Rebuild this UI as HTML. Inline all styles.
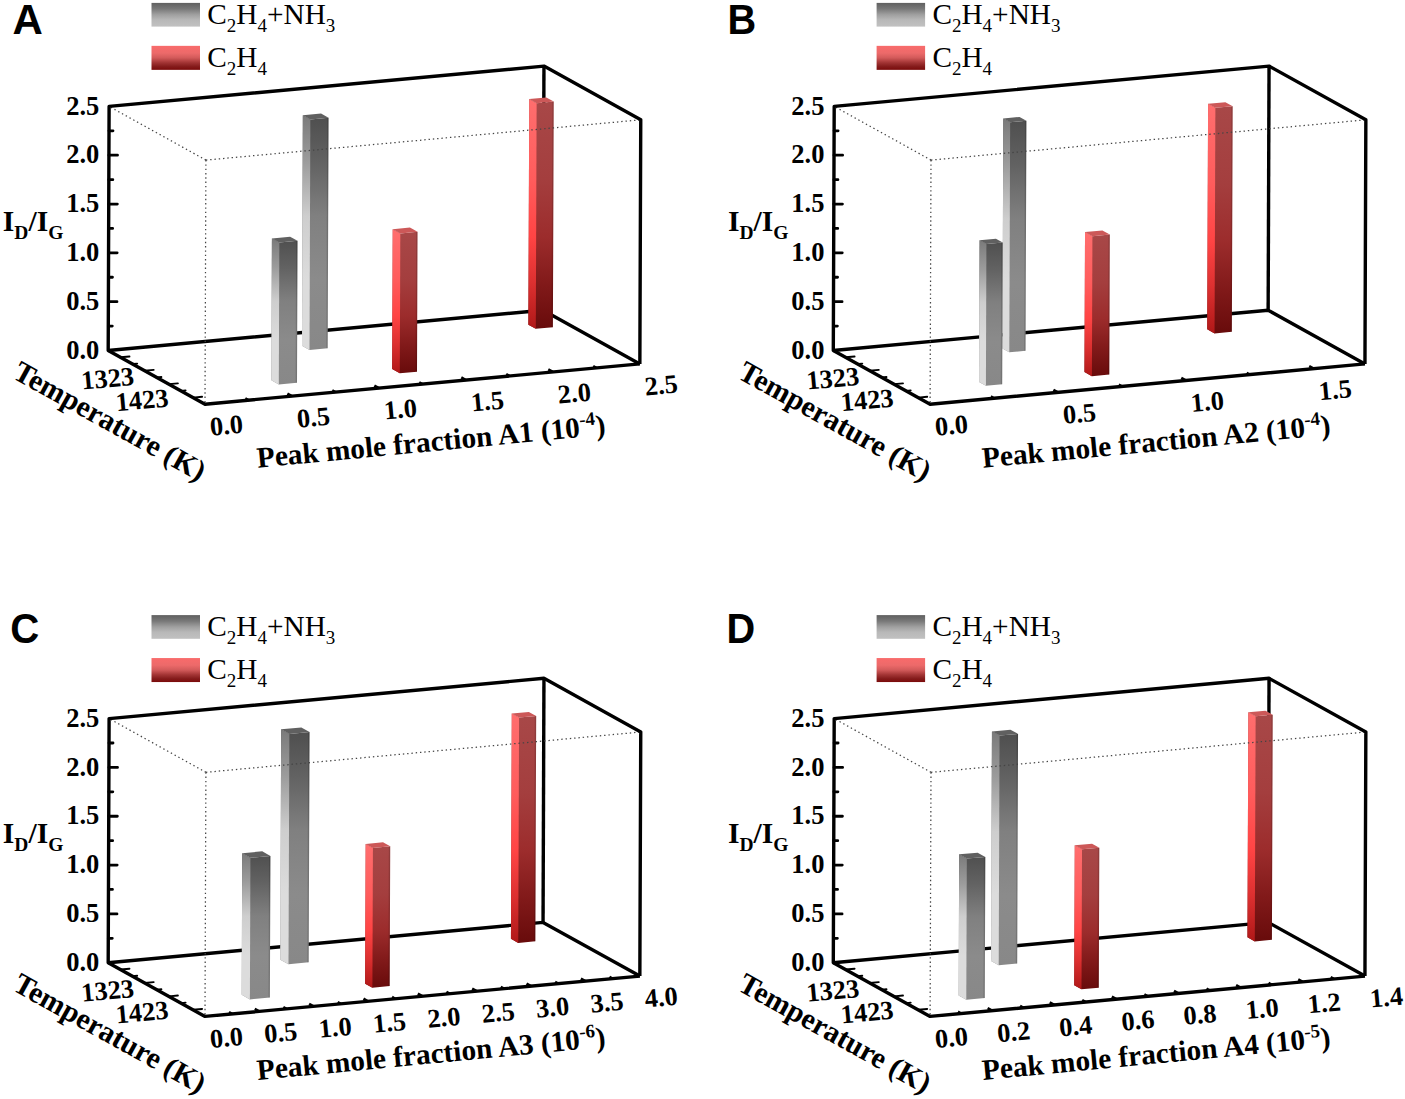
<!DOCTYPE html>
<html lang="en"><head><meta charset="utf-8"><title>Figure</title>
<style>html,body{margin:0;padding:0;background:#fff}svg{display:block}text{fill:#000}.tk{font-family:'Liberation Serif',serif;font-weight:bold;font-size:26.5px}.tt{font-family:'Liberation Serif',serif;font-weight:bold;font-size:29.6px}.lg{font-family:'Liberation Serif',serif;font-size:29.3px}.pl{font-family:'Liberation Sans',sans-serif;font-weight:bold;font-size:42px}</style></head><body>
<svg width="1405" height="1099" viewBox="0 0 1405 1099">
<defs>
<linearGradient id="lgG" x1="0" y1="0" x2="0" y2="1"><stop offset="0" stop-color="#606060"/><stop offset="0.25" stop-color="#787878"/><stop offset="0.5" stop-color="#a0a0a0"/><stop offset="0.72" stop-color="#b8b8b8"/><stop offset="1" stop-color="#c1c1c1"/></linearGradient>
<linearGradient id="lgR" x1="0" y1="0" x2="0" y2="1"><stop offset="0" stop-color="#f96b6b"/><stop offset="0.3" stop-color="#ec6a6a"/><stop offset="0.5" stop-color="#d25a5a"/><stop offset="0.7" stop-color="#a23434"/><stop offset="0.85" stop-color="#861d1d"/><stop offset="1" stop-color="#7a0a0a"/></linearGradient>
<linearGradient id="gL" x1="0" y1="0" x2="0" y2="1"><stop offset="0" stop-color="#7a7a7a"/><stop offset="0.2" stop-color="#9c9c9c"/><stop offset="0.43" stop-color="#cecece"/><stop offset="0.7" stop-color="#dcdcdc"/><stop offset="1" stop-color="#dcdcdc"/></linearGradient>
<linearGradient id="gF" x1="0" y1="0" x2="0" y2="1"><stop offset="0" stop-color="#4e4e4e"/><stop offset="0.2" stop-color="#626262"/><stop offset="0.43" stop-color="#808080"/><stop offset="0.7" stop-color="#8b8b8b"/><stop offset="1" stop-color="#888888"/></linearGradient>
<linearGradient id="rL" x1="0" y1="0" x2="0" y2="1"><stop offset="0" stop-color="#ff6e6e"/><stop offset="0.35" stop-color="#ff5c5c"/><stop offset="0.6" stop-color="#ff4444"/><stop offset="0.8" stop-color="#dc3030"/><stop offset="1" stop-color="#b01818"/></linearGradient>
<linearGradient id="rF" x1="0" y1="0" x2="0" y2="1"><stop offset="0" stop-color="#a84848"/><stop offset="0.35" stop-color="#a43e3e"/><stop offset="0.6" stop-color="#9c2c2c"/><stop offset="0.8" stop-color="#821a1a"/><stop offset="1" stop-color="#680b0b"/></linearGradient>
</defs>
<rect width="1405" height="1099" fill="#fff"/>
<g transform="translate(0,0)">
<rect x="151.5" y="2.9" width="48.5" height="23.7" fill="url(#lgG)"/>
<rect x="151.5" y="45.85" width="48.5" height="24" fill="url(#lgR)"/>
<text class="lg" x="207.3" y="23.9">C<tspan font-size="19px" dy="7.8">2</tspan><tspan dy="-7.8">H</tspan><tspan font-size="19px" dy="7.8">4</tspan><tspan dy="-7.8">+NH</tspan><tspan font-size="19px" dy="7.8">3</tspan></text>
<text class="lg" x="207.3" y="66.9">C<tspan font-size="19px" dy="7.8">2</tspan><tspan dy="-7.8">H</tspan><tspan font-size="19px" dy="7.8">4</tspan></text>
<g fill="none" stroke="#000" stroke-width="3.4" stroke-linejoin="round" stroke-linecap="butt">
<polyline points="108.2,350.5 543.05,310.2 639.85,363.9"/>
<polyline points="543.95,66.1 543.05,310.2"/>
</g>
<polygon points="302.85,115.24 310.35,119.4 328.55,117.71 327.7,348.21 309.5,349.9 302,345.74" fill="url(#gF)"/><polygon points="302.85,115.24 310.35,119.4 309.5,349.9 302,345.74" fill="url(#gL)"/><polygon points="327.15,117.84 328.55,117.71 327.7,348.21 326.3,348.34" fill="#000" fill-opacity="0.14"/><polygon points="302.85,115.24 321.05,113.55 328.55,117.71 310.35,119.4" fill="#606060"/>
<polygon points="529.23,99.09 536.63,103.2 553.73,101.62 552.9,327.22 535.8,328.8 528.4,324.69" fill="url(#rF)"/><polygon points="529.23,99.09 536.63,103.2 535.8,328.8 528.4,324.69" fill="url(#rL)"/><polygon points="552.33,101.74 553.73,101.62 552.9,327.22 551.5,327.34" fill="#000" fill-opacity="0.14"/><polygon points="529.23,99.09 546.33,97.51 553.73,101.62 536.63,103.2" fill="#cc5858"/>
<polygon points="271.92,238.39 279.32,242.5 297.52,240.81 297,382.71 278.8,384.4 271.4,380.29" fill="url(#gF)"/><polygon points="271.92,238.39 279.32,242.5 278.8,384.4 271.4,380.29" fill="url(#gL)"/><polygon points="296.12,240.94 297.52,240.81 297,382.71 295.6,382.84" fill="#000" fill-opacity="0.14"/><polygon points="271.92,238.39 290.12,236.71 297.52,240.81 279.32,242.5" fill="#606060"/>
<polygon points="392.72,229.18 400.32,233.4 417.52,231.81 417,371.71 399.8,373.3 392.2,369.08" fill="url(#rF)"/><polygon points="392.72,229.18 400.32,233.4 399.8,373.3 392.2,369.08" fill="url(#rL)"/><polygon points="416.12,231.94 417.52,231.81 417,371.71 415.6,371.84" fill="#000" fill-opacity="0.14"/><polygon points="392.72,229.18 409.92,227.59 417.52,231.81 400.32,233.4" fill="#cc5858"/>
<g fill="none" stroke="#444" stroke-width="1.25" stroke-dasharray="1.4 2.9">
<polyline points="205.9,160.1 109.1,106.4"/>
<polyline points="205.9,160.1 640.75,119.8"/>
<polyline points="205.9,160.1 205,404.2"/>
</g>
<g fill="none" stroke="#000" stroke-width="3.4" stroke-linejoin="round" stroke-linecap="butt">
<polyline points="639.85,363.9 205,404.2 108.2,350.5 109.1,106.4 543.95,66.1 640.75,119.8 639.85,363.9"/>
<path d="M108.29 326.09h4M108.38 301.68h8.6M108.47 277.27h4M108.56 252.86h8.6M108.65 228.45h4M108.74 204.04h8.6M108.83 179.63h4M108.92 155.22h8.6M109.01 130.81h4" stroke-linecap="round" stroke-width="2.8"/>
<path d="M120.49 357.32l9 -0.83M132.59 364.03l4.6 -0.43M144.69 370.74l9 -0.83M156.79 377.46l4.6 -0.43M168.89 384.17l9 -0.83M180.99 390.88l4.6 -0.43M193.09 397.59l9 -0.83" stroke-width="1.9" stroke-linecap="round"/>
<path d="M248.49 400.17l-3.2 -1.78M291.97 396.14l-4.6 -2.55M335.46 392.11l-3.2 -1.78M378.94 388.08l-4.6 -2.55M422.43 384.05l-3.2 -1.78M465.91 380.02l-4.6 -2.55M509.39 375.99l-3.2 -1.78M552.88 371.96l-4.6 -2.55M596.37 367.93l-3.2 -1.78" stroke-width="2.6" stroke-linecap="butt"/>
</g>
<text class="tk" text-anchor="end" x="99.3" y="358.7">0.0</text>
<text class="tk" text-anchor="end" x="99.3" y="309.88">0.5</text>
<text class="tk" text-anchor="end" x="99.3" y="261.06">1.0</text>
<text class="tk" text-anchor="end" x="99.3" y="212.24">1.5</text>
<text class="tk" text-anchor="end" x="99.3" y="163.42">2.0</text>
<text class="tk" text-anchor="end" x="99.3" y="114.6">2.5</text>
<text class="tt" x="2.8" y="231.2">I<tspan font-size="19.5px" dy="7.5">D</tspan><tspan dy="-7.5">/I</tspan><tspan font-size="19.5px" dy="7.5">G</tspan></text>
<text class="tk" text-anchor="middle" transform="translate(226.4,425.4) rotate(-5.29)" x="0" y="8.8">0.0</text>
<text class="tk" text-anchor="middle" transform="translate(313.37,417.34) rotate(-5.29)" x="0" y="8.8">0.5</text>
<text class="tk" text-anchor="middle" transform="translate(400.34,409.28) rotate(-5.29)" x="0" y="8.8">1.0</text>
<text class="tk" text-anchor="middle" transform="translate(487.31,401.22) rotate(-5.29)" x="0" y="8.8">1.5</text>
<text class="tk" text-anchor="middle" transform="translate(574.28,393.16) rotate(-5.29)" x="0" y="8.8">2.0</text>
<text class="tk" text-anchor="middle" transform="translate(661.25,385.1) rotate(-5.29)" x="0" y="8.8">2.5</text>
<text class="tk" text-anchor="middle" transform="translate(107.6,378.4) rotate(-5.29)" x="0" y="8.8">1323</text>
<text class="tk" text-anchor="middle" transform="translate(142,400.1) rotate(-5.29)" x="0" y="8.8">1423</text>
<text class="tt" style="font-size:29.35px" transform="translate(257.8,467.8) rotate(-5.45)" x="0" y="0">Peak mole fraction A1 (10<tspan font-size="19px" dy="-11">-4</tspan><tspan dy="11">)</tspan></text>
<text class="tt" transform="translate(11.5,377.4) rotate(29.1)" x="0" y="0">Temperature (K)</text>
</g>
<text class="pl" x="12.5" y="33.8">A</text>
<g transform="translate(725.1,0)">
<rect x="151.5" y="2.9" width="48.5" height="23.7" fill="url(#lgG)"/>
<rect x="151.5" y="45.85" width="48.5" height="24" fill="url(#lgR)"/>
<text class="lg" x="207.3" y="23.9">C<tspan font-size="19px" dy="7.8">2</tspan><tspan dy="-7.8">H</tspan><tspan font-size="19px" dy="7.8">4</tspan><tspan dy="-7.8">+NH</tspan><tspan font-size="19px" dy="7.8">3</tspan></text>
<text class="lg" x="207.3" y="66.9">C<tspan font-size="19px" dy="7.8">2</tspan><tspan dy="-7.8">H</tspan><tspan font-size="19px" dy="7.8">4</tspan></text>
<g fill="none" stroke="#000" stroke-width="3.4" stroke-linejoin="round" stroke-linecap="butt">
<polyline points="108.2,350.5 543.05,310.2 639.85,363.9"/>
<polyline points="543.95,66.1 543.05,310.2"/>
</g>
<polygon points="278.2,118.4 285.05,122.2 301.3,120.69 300.45,350.79 284.2,352.3 277.35,348.5" fill="url(#gF)"/><polygon points="278.2,118.4 285.05,122.2 284.2,352.3 277.35,348.5" fill="url(#gL)"/><polygon points="299.9,120.82 301.3,120.69 300.45,350.79 299.05,350.92" fill="#000" fill-opacity="0.14"/><polygon points="278.2,118.4 294.45,116.89 301.3,120.69 285.05,122.2" fill="#606060"/>
<polygon points="482.98,103.75 490.28,107.8 507.58,106.2 506.75,331.8 489.45,333.4 482.15,329.35" fill="url(#rF)"/><polygon points="482.98,103.75 490.28,107.8 489.45,333.4 482.15,329.35" fill="url(#rL)"/><polygon points="506.18,106.33 507.58,106.2 506.75,331.8 505.35,331.93" fill="#000" fill-opacity="0.14"/><polygon points="482.98,103.75 500.28,102.15 507.58,106.2 490.28,107.8" fill="#cc5858"/>
<polygon points="254.52,240.23 261.32,244 277.62,242.49 277.1,384.29 260.8,385.8 254,382.03" fill="url(#gF)"/><polygon points="254.52,240.23 261.32,244 260.8,385.8 254,382.03" fill="url(#gL)"/><polygon points="276.22,242.62 277.62,242.49 277.1,384.29 275.7,384.42" fill="#000" fill-opacity="0.14"/><polygon points="254.52,240.23 270.82,238.72 277.62,242.49 261.32,244" fill="#606060"/>
<polygon points="359.92,232.09 367.32,236.2 384.72,234.59 384.2,374.59 366.8,376.2 359.4,372.09" fill="url(#rF)"/><polygon points="359.92,232.09 367.32,236.2 366.8,376.2 359.4,372.09" fill="url(#rL)"/><polygon points="383.32,234.72 384.72,234.59 384.2,374.59 382.8,374.72" fill="#000" fill-opacity="0.14"/><polygon points="359.92,232.09 377.32,230.48 384.72,234.59 367.32,236.2" fill="#cc5858"/>
<g fill="none" stroke="#444" stroke-width="1.25" stroke-dasharray="1.4 2.9">
<polyline points="205.9,160.1 109.1,106.4"/>
<polyline points="205.9,160.1 640.75,119.8"/>
<polyline points="205.9,160.1 205,404.2"/>
</g>
<g fill="none" stroke="#000" stroke-width="3.4" stroke-linejoin="round" stroke-linecap="butt">
<polyline points="639.85,363.9 205,404.2 108.2,350.5 109.1,106.4 543.95,66.1 640.75,119.8 639.85,363.9"/>
<path d="M108.29 326.09h4M108.38 301.68h8.6M108.47 277.27h4M108.56 252.86h8.6M108.65 228.45h4M108.74 204.04h8.6M108.83 179.63h4M108.92 155.22h8.6M109.01 130.81h4" stroke-linecap="round" stroke-width="2.8"/>
<path d="M120.49 357.32l9 -0.83M132.59 364.03l4.6 -0.43M144.69 370.74l9 -0.83M156.79 377.46l4.6 -0.43M168.89 384.17l9 -0.83M180.99 390.88l4.6 -0.43M193.09 397.59l9 -0.83" stroke-width="1.9" stroke-linecap="round"/>
<path d="M268.95 398.27l-3.2 -1.78M332.9 392.35l-4.6 -2.55M396.85 386.42l-3.2 -1.78M460.79 380.49l-4.6 -2.55M524.74 374.57l-3.2 -1.78M588.69 368.64l-4.6 -2.55" stroke-width="2.6" stroke-linecap="butt"/>
</g>
<text class="tk" text-anchor="end" x="99.3" y="358.7">0.0</text>
<text class="tk" text-anchor="end" x="99.3" y="309.88">0.5</text>
<text class="tk" text-anchor="end" x="99.3" y="261.06">1.0</text>
<text class="tk" text-anchor="end" x="99.3" y="212.24">1.5</text>
<text class="tk" text-anchor="end" x="99.3" y="163.42">2.0</text>
<text class="tk" text-anchor="end" x="99.3" y="114.6">2.5</text>
<text class="tt" x="2.8" y="231.2">I<tspan font-size="19.5px" dy="7.5">D</tspan><tspan dy="-7.5">/I</tspan><tspan font-size="19.5px" dy="7.5">G</tspan></text>
<text class="tk" text-anchor="middle" transform="translate(226.4,425.4) rotate(-5.29)" x="0" y="8.8">0.0</text>
<text class="tk" text-anchor="middle" transform="translate(354.3,413.55) rotate(-5.29)" x="0" y="8.8">0.5</text>
<text class="tk" text-anchor="middle" transform="translate(482.19,401.69) rotate(-5.29)" x="0" y="8.8">1.0</text>
<text class="tk" text-anchor="middle" transform="translate(610.09,389.84) rotate(-5.29)" x="0" y="8.8">1.5</text>
<text class="tk" text-anchor="middle" transform="translate(107.6,378.4) rotate(-5.29)" x="0" y="8.8">1323</text>
<text class="tk" text-anchor="middle" transform="translate(142,400.1) rotate(-5.29)" x="0" y="8.8">1423</text>
<text class="tt" style="font-size:29.35px" transform="translate(257.8,467.8) rotate(-5.45)" x="0" y="0">Peak mole fraction A2 (10<tspan font-size="19px" dy="-11">-4</tspan><tspan dy="11">)</tspan></text>
<text class="tt" transform="translate(11.5,377.4) rotate(29.1)" x="0" y="0">Temperature (K)</text>
</g>
<text class="pl" transform="translate(727.4,33.8) scale(0.945,1)" x="0" y="0">B</text>
<g transform="translate(0,612.2)">
<rect x="151.5" y="2.9" width="48.5" height="23.7" fill="url(#lgG)"/>
<rect x="151.5" y="45.85" width="48.5" height="24" fill="url(#lgR)"/>
<text class="lg" x="207.3" y="23.9">C<tspan font-size="19px" dy="7.8">2</tspan><tspan dy="-7.8">H</tspan><tspan font-size="19px" dy="7.8">4</tspan><tspan dy="-7.8">+NH</tspan><tspan font-size="19px" dy="7.8">3</tspan></text>
<text class="lg" x="207.3" y="66.9">C<tspan font-size="19px" dy="7.8">2</tspan><tspan dy="-7.8">H</tspan><tspan font-size="19px" dy="7.8">4</tspan></text>
<g fill="none" stroke="#000" stroke-width="3.4" stroke-linejoin="round" stroke-linecap="butt">
<polyline points="108.2,350.5 543.05,310.2 639.85,363.9"/>
<polyline points="543.95,66.1 543.05,310.2"/>
</g>
<polygon points="281.15,117.15 289.35,121.7 309.55,119.83 308.7,350.13 288.5,352 280.3,347.45" fill="url(#gF)"/><polygon points="281.15,117.15 289.35,121.7 288.5,352 280.3,347.45" fill="url(#gL)"/><polygon points="308.15,119.96 309.55,119.83 308.7,350.13 307.3,350.26" fill="#000" fill-opacity="0.14"/><polygon points="281.15,117.15 301.35,115.28 309.55,119.83 289.35,121.7" fill="#606060"/>
<polygon points="511.78,101.35 519.08,105.4 536.18,103.82 535.35,329.12 518.25,330.7 510.95,326.65" fill="url(#rF)"/><polygon points="511.78,101.35 519.08,105.4 518.25,330.7 510.95,326.65" fill="url(#rL)"/><polygon points="534.78,103.94 536.18,103.82 535.35,329.12 533.95,329.24" fill="#000" fill-opacity="0.14"/><polygon points="511.78,101.35 528.88,99.77 536.18,103.82 519.08,105.4" fill="#cc5858"/>
<polygon points="242.22,241 250.42,245.55 270.42,243.7 269.9,385.35 249.9,387.2 241.7,382.65" fill="url(#gF)"/><polygon points="242.22,241 250.42,245.55 249.9,387.2 241.7,382.65" fill="url(#gL)"/><polygon points="269.02,243.83 270.42,243.7 269.9,385.35 268.5,385.48" fill="#000" fill-opacity="0.14"/><polygon points="242.22,241 262.22,239.15 270.42,243.7 250.42,245.55" fill="#606060"/>
<polygon points="365.67,231.68 372.92,235.7 390.22,234.1 389.7,373.9 372.4,375.5 365.15,371.48" fill="url(#rF)"/><polygon points="365.67,231.68 372.92,235.7 372.4,375.5 365.15,371.48" fill="url(#rL)"/><polygon points="388.82,234.23 390.22,234.1 389.7,373.9 388.3,374.03" fill="#000" fill-opacity="0.14"/><polygon points="365.67,231.68 382.97,230.07 390.22,234.1 372.92,235.7" fill="#cc5858"/>
<g fill="none" stroke="#444" stroke-width="1.25" stroke-dasharray="1.4 2.9">
<polyline points="205.9,160.1 109.1,106.4"/>
<polyline points="205.9,160.1 640.75,119.8"/>
<polyline points="205.9,160.1 205,404.2"/>
</g>
<g fill="none" stroke="#000" stroke-width="3.4" stroke-linejoin="round" stroke-linecap="butt">
<polyline points="639.85,363.9 205,404.2 108.2,350.5 109.1,106.4 543.95,66.1 640.75,119.8 639.85,363.9"/>
<path d="M108.29 326.09h4M108.38 301.68h8.6M108.47 277.27h4M108.56 252.86h8.6M108.65 228.45h4M108.74 204.04h8.6M108.83 179.63h4M108.92 155.22h8.6M109.01 130.81h4" stroke-linecap="round" stroke-width="2.8"/>
<path d="M120.49 357.32l9 -0.83M132.59 364.03l4.6 -0.43M144.69 370.74l9 -0.83M156.79 377.46l4.6 -0.43M168.89 384.17l9 -0.83M180.99 390.88l4.6 -0.43M193.09 397.59l9 -0.83" stroke-width="1.9" stroke-linecap="round"/>
<path d="M232.18 401.68l-3.2 -1.78M259.36 399.16l-4.6 -2.55M286.53 396.64l-3.2 -1.78M313.71 394.12l-4.6 -2.55M340.89 391.61l-3.2 -1.78M368.07 389.09l-4.6 -2.55M395.25 386.57l-3.2 -1.78M422.43 384.05l-4.6 -2.55M449.6 381.53l-3.2 -1.78M476.78 379.01l-4.6 -2.55M503.96 376.49l-3.2 -1.78M531.14 373.97l-4.6 -2.55M558.32 371.46l-3.2 -1.78M585.49 368.94l-4.6 -2.55M612.67 366.42l-3.2 -1.78" stroke-width="2.6" stroke-linecap="butt"/>
</g>
<text class="tk" text-anchor="end" x="99.3" y="358.7">0.0</text>
<text class="tk" text-anchor="end" x="99.3" y="309.88">0.5</text>
<text class="tk" text-anchor="end" x="99.3" y="261.06">1.0</text>
<text class="tk" text-anchor="end" x="99.3" y="212.24">1.5</text>
<text class="tk" text-anchor="end" x="99.3" y="163.42">2.0</text>
<text class="tk" text-anchor="end" x="99.3" y="114.6">2.5</text>
<text class="tt" x="2.8" y="231.2">I<tspan font-size="19.5px" dy="7.5">D</tspan><tspan dy="-7.5">/I</tspan><tspan font-size="19.5px" dy="7.5">G</tspan></text>
<text class="tk" text-anchor="middle" transform="translate(226.4,425.4) rotate(-5.29)" x="0" y="8.8">0.0</text>
<text class="tk" text-anchor="middle" transform="translate(280.76,420.36) rotate(-5.29)" x="0" y="8.8">0.5</text>
<text class="tk" text-anchor="middle" transform="translate(335.11,415.32) rotate(-5.29)" x="0" y="8.8">1.0</text>
<text class="tk" text-anchor="middle" transform="translate(389.47,410.29) rotate(-5.29)" x="0" y="8.8">1.5</text>
<text class="tk" text-anchor="middle" transform="translate(443.82,405.25) rotate(-5.29)" x="0" y="8.8">2.0</text>
<text class="tk" text-anchor="middle" transform="translate(498.18,400.21) rotate(-5.29)" x="0" y="8.8">2.5</text>
<text class="tk" text-anchor="middle" transform="translate(552.54,395.17) rotate(-5.29)" x="0" y="8.8">3.0</text>
<text class="tk" text-anchor="middle" transform="translate(606.89,390.14) rotate(-5.29)" x="0" y="8.8">3.5</text>
<text class="tk" text-anchor="middle" transform="translate(661.25,385.1) rotate(-5.29)" x="0" y="8.8">4.0</text>
<text class="tk" text-anchor="middle" transform="translate(107.6,378.4) rotate(-5.29)" x="0" y="8.8">1323</text>
<text class="tk" text-anchor="middle" transform="translate(142,400.1) rotate(-5.29)" x="0" y="8.8">1423</text>
<text class="tt" style="font-size:29.35px" transform="translate(257.8,467.8) rotate(-5.45)" x="0" y="0">Peak mole fraction A3 (10<tspan font-size="19px" dy="-11">-6</tspan><tspan dy="11">)</tspan></text>
<text class="tt" transform="translate(11.5,377.4) rotate(29.1)" x="0" y="0">Temperature (K)</text>
</g>
<text class="pl" transform="translate(10.3,642.7) scale(0.957,1)" x="0" y="0">C</text>
<g transform="translate(725.1,612.2)">
<rect x="151.5" y="2.9" width="48.5" height="23.7" fill="url(#lgG)"/>
<rect x="151.5" y="45.85" width="48.5" height="24" fill="url(#lgR)"/>
<text class="lg" x="207.3" y="23.9">C<tspan font-size="19px" dy="7.8">2</tspan><tspan dy="-7.8">H</tspan><tspan font-size="19px" dy="7.8">4</tspan><tspan dy="-7.8">+NH</tspan><tspan font-size="19px" dy="7.8">3</tspan></text>
<text class="lg" x="207.3" y="66.9">C<tspan font-size="19px" dy="7.8">2</tspan><tspan dy="-7.8">H</tspan><tspan font-size="19px" dy="7.8">4</tspan></text>
<g fill="none" stroke="#000" stroke-width="3.4" stroke-linejoin="round" stroke-linecap="butt">
<polyline points="108.2,350.5 543.05,310.2 639.85,363.9"/>
<polyline points="543.95,66.1 543.05,310.2"/>
</g>
<polygon points="266.85,119.18 274.45,123.4 292.95,121.69 292.1,351.39 273.6,353.1 266,348.88" fill="url(#gF)"/><polygon points="266.85,119.18 274.45,123.4 273.6,353.1 266,348.88" fill="url(#gL)"/><polygon points="291.55,121.82 292.95,121.69 292.1,351.39 290.7,351.52" fill="#000" fill-opacity="0.14"/><polygon points="266.85,119.18 285.35,117.47 292.95,121.69 274.45,123.4" fill="#606060"/>
<polygon points="523.23,100.05 530.53,104.1 547.63,102.52 546.8,327.62 529.7,329.2 522.4,325.15" fill="url(#rF)"/><polygon points="523.23,100.05 530.53,104.1 529.7,329.2 522.4,325.15" fill="url(#rL)"/><polygon points="546.23,102.64 547.63,102.52 546.8,327.62 545.4,327.74" fill="#000" fill-opacity="0.14"/><polygon points="523.23,100.05 540.33,98.47 547.63,102.52 530.53,104.1" fill="#cc5858"/>
<polygon points="234.07,242.16 241.72,246.4 260.22,244.69 259.7,385.89 241.2,387.6 233.55,383.36" fill="url(#gF)"/><polygon points="234.07,242.16 241.72,246.4 241.2,387.6 233.55,383.36" fill="url(#gL)"/><polygon points="258.82,244.82 260.22,244.69 259.7,385.89 258.3,386.02" fill="#000" fill-opacity="0.14"/><polygon points="234.07,242.16 252.57,240.44 260.22,244.69 241.72,246.4" fill="#606060"/>
<polygon points="349.67,233.13 356.92,237.15 374.22,235.55 373.7,375.5 356.4,377.1 349.15,373.08" fill="url(#rF)"/><polygon points="349.67,233.13 356.92,237.15 356.4,377.1 349.15,373.08" fill="url(#rL)"/><polygon points="372.82,235.68 374.22,235.55 373.7,375.5 372.3,375.63" fill="#000" fill-opacity="0.14"/><polygon points="349.67,233.13 366.97,231.52 374.22,235.55 356.92,237.15" fill="#cc5858"/>
<g fill="none" stroke="#444" stroke-width="1.25" stroke-dasharray="1.4 2.9">
<polyline points="205.9,160.1 109.1,106.4"/>
<polyline points="205.9,160.1 640.75,119.8"/>
<polyline points="205.9,160.1 205,404.2"/>
</g>
<g fill="none" stroke="#000" stroke-width="3.4" stroke-linejoin="round" stroke-linecap="butt">
<polyline points="639.85,363.9 205,404.2 108.2,350.5 109.1,106.4 543.95,66.1 640.75,119.8 639.85,363.9"/>
<path d="M108.29 326.09h4M108.38 301.68h8.6M108.47 277.27h4M108.56 252.86h8.6M108.65 228.45h4M108.74 204.04h8.6M108.83 179.63h4M108.92 155.22h8.6M109.01 130.81h4" stroke-linecap="round" stroke-width="2.8"/>
<path d="M120.49 357.32l9 -0.83M132.59 364.03l4.6 -0.43M144.69 370.74l9 -0.83M156.79 377.46l4.6 -0.43M168.89 384.17l9 -0.83M180.99 390.88l4.6 -0.43M193.09 397.59l9 -0.83" stroke-width="1.9" stroke-linecap="round"/>
<path d="M236.06 401.32l-3.2 -1.78M267.12 398.44l-4.6 -2.55M298.18 395.56l-3.2 -1.78M329.24 392.69l-4.6 -2.55M360.3 389.81l-3.2 -1.78M391.36 386.93l-4.6 -2.55M422.43 384.05l-3.2 -1.78M453.49 381.17l-4.6 -2.55M484.55 378.29l-3.2 -1.78M515.61 375.41l-4.6 -2.55M546.67 372.54l-3.2 -1.78M577.73 369.66l-4.6 -2.55M608.79 366.78l-3.2 -1.78" stroke-width="2.6" stroke-linecap="butt"/>
</g>
<text class="tk" text-anchor="end" x="99.3" y="358.7">0.0</text>
<text class="tk" text-anchor="end" x="99.3" y="309.88">0.5</text>
<text class="tk" text-anchor="end" x="99.3" y="261.06">1.0</text>
<text class="tk" text-anchor="end" x="99.3" y="212.24">1.5</text>
<text class="tk" text-anchor="end" x="99.3" y="163.42">2.0</text>
<text class="tk" text-anchor="end" x="99.3" y="114.6">2.5</text>
<text class="tt" x="2.8" y="231.2">I<tspan font-size="19.5px" dy="7.5">D</tspan><tspan dy="-7.5">/I</tspan><tspan font-size="19.5px" dy="7.5">G</tspan></text>
<text class="tk" text-anchor="middle" transform="translate(226.4,425.4) rotate(-5.29)" x="0" y="8.8">0.0</text>
<text class="tk" text-anchor="middle" transform="translate(288.52,419.64) rotate(-5.29)" x="0" y="8.8">0.2</text>
<text class="tk" text-anchor="middle" transform="translate(350.64,413.89) rotate(-5.29)" x="0" y="8.8">0.4</text>
<text class="tk" text-anchor="middle" transform="translate(412.76,408.13) rotate(-5.29)" x="0" y="8.8">0.6</text>
<text class="tk" text-anchor="middle" transform="translate(474.89,402.37) rotate(-5.29)" x="0" y="8.8">0.8</text>
<text class="tk" text-anchor="middle" transform="translate(537.01,396.61) rotate(-5.29)" x="0" y="8.8">1.0</text>
<text class="tk" text-anchor="middle" transform="translate(599.13,390.86) rotate(-5.29)" x="0" y="8.8">1.2</text>
<text class="tk" text-anchor="middle" transform="translate(661.25,385.1) rotate(-5.29)" x="0" y="8.8">1.4</text>
<text class="tk" text-anchor="middle" transform="translate(107.6,378.4) rotate(-5.29)" x="0" y="8.8">1323</text>
<text class="tk" text-anchor="middle" transform="translate(142,400.1) rotate(-5.29)" x="0" y="8.8">1423</text>
<text class="tt" style="font-size:29.35px" transform="translate(257.8,467.8) rotate(-5.45)" x="0" y="0">Peak mole fraction A4 (10<tspan font-size="19px" dy="-11">-5</tspan><tspan dy="11">)</tspan></text>
<text class="tt" transform="translate(11.5,377.4) rotate(29.1)" x="0" y="0">Temperature (K)</text>
</g>
<text class="pl" transform="translate(726.6,642.6) scale(0.945,1)" x="0" y="0">D</text>
</svg></body></html>
